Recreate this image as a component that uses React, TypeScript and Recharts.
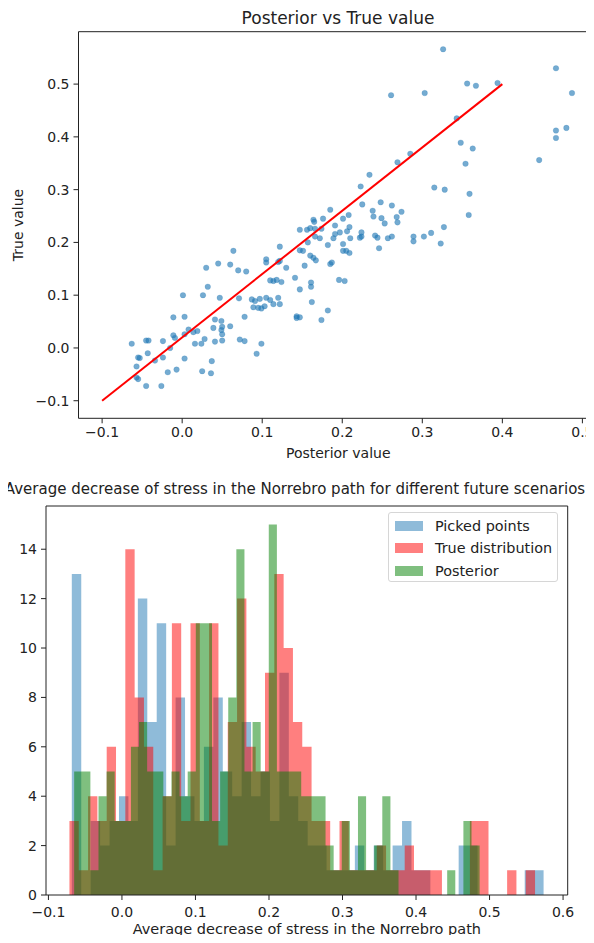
import React from "react";
import {
  ScatterChart,
  Scatter,
  ComposedChart,
  Area,
  XAxis,
  YAxis,
  ReferenceArea,
  Legend,
} from "recharts";

const FONT = "'DejaVu Sans', Verdana, sans-serif";
const INK = "#222";

// ---- top chart: posterior vs true value ----
const posteriorValues = [
  0.326, 0.467, 0.487, 0.356, 0.367, 0.394, 0.261, 0.303, 0.343, 0.467, 0.48, 0.467, 0.446, 0.348, 0.363, 0.354, 0.269, 0.285, 0.234, 0.223,
  0.225, 0.248, 0.262, 0.315, 0.328, 0.359, 0.358, 0.185, 0.208, 0.238, 0.274, 0.268, 0.249, 0.201, 0.239, 0.164, 0.176, 0.269, 0.253, 0.156,
  0.166, 0.174, 0.191, 0.209, 0.197, 0.206, 0.224, 0.224, 0.222, 0.21, 0.241, 0.244, 0.257, 0.262, 0.246, 0.289, 0.289, 0.302, 0.311, 0.327,
  0.323, 0.191, 0.182, 0.189, 0.201, 0.205, 0.209, 0.201, 0.164, 0.167, 0.153, 0.185, 0.187, 0.147, 0.161, 0.161, 0.196, 0.203, 0.162, 0.182,
  0.174, 0.147, 0.147, 0.16, 0.165, 0.122, 0.157, 0.147, 0.151, 0.166, 0.172, 0.16, 0.105, 0.105, 0.12, 0.122, 0.13, 0.11, 0.114, 0.118,
  0.124, 0.141, 0.143, 0.143, 0.087, 0.091, 0.097, 0.105, 0.11, 0.103, 0.114, 0.12, 0.122, 0.089, 0.095, 0.099, 0.078, 0.093, 0.099, 0.072,
  0.078, 0.06, 0.049, 0.05, 0.05, 0.041, 0.039, 0.028, 0.024, 0.016, 0.019, 0.014, 0.008, 0.003, 0.003, 0.001, 0.003, -0.011, -0.009, -0.015,
  -0.007, -0.018, -0.024, -0.034, -0.024, -0.026, -0.045, -0.043, -0.045, -0.042, -0.055, -0.053, -0.057, -0.063, -0.057, -0.055, 0.032, 0.03, 0.045, 0.026,
  0.047, 0.064, 0.06, 0.07, 0.08, 0.071, 0.041, 0.049, 0.05, 0.037, 0.025, 0.036, -0.011,
];
const trueValues = [
  0.566, 0.53, 0.483, 0.501, 0.497, 0.502, 0.479, 0.483, 0.435, 0.412, 0.417, 0.398, 0.356, 0.389, 0.378, 0.349, 0.352, 0.368, 0.328, 0.306,
  0.272, 0.276, 0.27, 0.304, 0.3, 0.292, 0.252, 0.262, 0.252, 0.26, 0.258, 0.248, 0.246, 0.245, 0.249, 0.243, 0.245, 0.238, 0.236, 0.224,
  0.226, 0.226, 0.232, 0.229, 0.219, 0.221, 0.219, 0.211, 0.209, 0.208, 0.213, 0.209, 0.208, 0.211, 0.189, 0.211, 0.202, 0.211, 0.218, 0.229,
  0.198, 0.216, 0.195, 0.208, 0.197, 0.184, 0.18, 0.184, 0.171, 0.166, 0.156, 0.159, 0.162, 0.111, 0.124, 0.116, 0.129, 0.127, 0.087, 0.071,
  0.053, 0.058, 0.224, 0.227, 0.239, 0.192, 0.2, 0.185, 0.184, 0.211, 0.208, 0.175, 0.168, 0.162, 0.163, 0.165, 0.152, 0.128, 0.127, 0.129,
  0.125, 0.133, 0.06, 0.057, 0.092, 0.089, 0.093, 0.095, 0.091, 0.079, 0.083, 0.095, 0.083, 0.077, 0.076, 0.075, 0.059, -0.011, 0.008, 0.016,
  0.013, 0.041, 0.034, 0.026, 0.014, 0.012, 0.038, 0.017, 0.008, 0.008, 0.032, 0.03, 0.035, 0.026, 0.059, 0.1, -0.02, 0.024, 0.019, 0.0,
  -0.041, -0.046, 0.013, -0.024, -0.018, -0.072, -0.072, -0.01, 0.014, 0.014, -0.018, -0.019, -0.035, 0.008, -0.056, -0.059, 0.116, 0.152, 0.16, 0.1,
  0.095, 0.184, 0.158, 0.147, 0.145, 0.094, 0.054, 0.051, 0.04, -0.025, -0.044, -0.048, 0.058,
];
const diagonalX = [-0.1, 0.4];
const diagonalY = [-0.1, 0.5];
const scatterTicks = [-0.1, 0, 0.1, 0.2, 0.3, 0.4, 0.5];
const scatterXDomain = [-0.1295, 0.5195];
const scatterYDomain = [-0.1333, 0.5993];

// ---- bottom chart: histograms (50 bins each) ----
const seriesNames = ["Picked points", "True distribution", "Posterior"];
const seriesColors = ["#1f77b4", "#ff0000", "#008000"];
const pickedRange = [-0.0682, 0.5735];
const trueRange = [-0.0714, 0.5619];
const posteriorRange = [-0.065, 0.4865];
const pickedCounts = [
  13, 0, 3, 2, 3, 4, 3, 12, 7, 11, 2, 8, 4, 3, 6, 8, 5, 4, 7, 4, 5, 3, 9, 4, 3,
  2, 2, 1, 1, 1, 2, 1, 2, 1, 2, 3, 1, 1, 0, 0, 0, 2, 2, 0, 0, 0, 0, 0, 1, 1,
];
const trueCounts = [
  3, 1, 4, 3, 6, 3, 14, 8, 6, 1, 4, 11, 3, 11, 3, 11, 2, 7, 12, 6, 5, 9, 13, 10, 7,
  6, 3, 3, 1, 3, 1, 1, 1, 2, 1, 1, 2, 1, 1, 1, 0, 0, 0, 3, 3, 0, 0, 1, 0, 1,
];
const posteriorCounts = [
  5, 5, 1, 4, 5, 3, 3, 6, 7, 5, 5, 4, 5, 4, 5, 11, 11, 3, 5, 8, 14, 5, 7, 5, 15,
  5, 5, 5, 4, 4, 4, 2, 1, 3, 1, 4, 1, 2, 4, 1, 0, 0, 0, 0, 0, 0, 1, 0, 3, 2,
];
const histXTicks = [-0.1, 0, 0.1, 0.2, 0.3, 0.4, 0.5, 0.6];
const histYTicks = [0, 2, 4, 6, 8, 10, 12, 14];
const histXDomain = [-0.1033, 0.6063];
const histYDomain = [0, 15.75];

const fmt = (v: number) => (v < -1e-9 ? "\u2212" : "") + Math.abs(v).toFixed(1);

const toBins = (range: number[], counts: number[]) => {
  const w = (range[1] - range[0]) / counts.length;
  const rows = counts.map((c, i) => ({ x: range[0] + i * w, count: c }));
  rows.push({ x: range[1], count: 0 });
  return rows;
};

const scatterPoints = posteriorValues.map((x, i) => ({ x, y: trueValues[i] }));
const diagonal = diagonalX.map((x, i) => ({ x, y: diagonalY[i] }));

const histSeries = [
  { name: seriesNames[0], color: seriesColors[0], data: toBins(pickedRange, pickedCounts) },
  { name: seriesNames[1], color: seriesColors[1], data: toBins(trueRange, trueCounts) },
  { name: seriesNames[2], color: seriesColors[2], data: toBins(posteriorRange, posteriorCounts) },
];

const tickStyle = { fontSize: 14, fill: INK, fontFamily: FONT };

const Dot = (p: any) => (
  <circle cx={p.cx} cy={p.cy} r={2.8} fill="#1f77b4" fillOpacity={0.62} stroke="#1f77b4" strokeOpacity={0.3} strokeWidth={0.6} />
);

const HistLegend = (props: any) => {
  const items = [...(props.payload || [])].sort(
    (a: any, b: any) => seriesNames.indexOf(a.value) - seriesNames.indexOf(b.value)
  );
  return (
    <div
      style={{
        border: "1px solid #d6d6d6",
        borderRadius: 3,
        background: "rgba(255,255,255,0.8)",
        width: 170,
        height: 70,
        boxSizing: "border-box",
        padding: "2px 0 0 6px",
        fontFamily: FONT,
        fontSize: 14.4,
        color: INK,
      }}
    >
      {items.map((entry: any) => {
        const s = histSeries.find((h) => h.name === entry.value);
        return (
          <div key={entry.value} style={{ height: 22.5, display: "flex", alignItems: "center" }}>
            <span
              style={{
                display: "inline-block",
                width: 28,
                height: 10,
                background: s ? s.color : entry.color,
                opacity: 0.5,
                marginRight: 12,
              }}
            />
            <span>{entry.value}</span>
          </div>
        );
      })}
    </div>
  );
};

const App = () => {
  return (
    <div style={{ position: "relative", width: 594, height: 943, margin: -8, overflow: "hidden", background: "#fff" }}>
      <div
        style={{
          position: "absolute",
          left: 0,
          top: 10,
          width: 676,
          textAlign: "center",
          fontFamily: FONT,
          fontSize: 17,
          lineHeight: "17px",
          color: INK,
          whiteSpace: "nowrap",
        }}
      >
        Posterior vs True value
      </div>
      <div style={{ position: "absolute", left: 0, top: 0 }}>
        <ScatterChart width={620} height={460} margin={{ top: 31.7, right: 22, bottom: 0, left: 0 }}>
          <XAxis
            type="number"
            dataKey="x"
            domain={scatterXDomain}
            allowDataOverflow
            ticks={scatterTicks}
            interval={0}
            tickFormatter={fmt}
            tick={tickStyle}
            tickLine={{ stroke: INK }}
            tickSize={5}
            tickMargin={4}
            axisLine={false}
            height={41.7}
            label={{ value: "Posterior value", position: "insideBottom", offset: 2, fill: INK, fontSize: 14, fontFamily: FONT }}
          />
          <YAxis
            type="number"
            dataKey="y"
            domain={scatterYDomain}
            allowDataOverflow
            ticks={scatterTicks}
            interval={0}
            tickFormatter={fmt}
            tick={tickStyle}
            tickLine={{ stroke: INK }}
            tickSize={5}
            tickMargin={4}
            axisLine={false}
            width={78.5}
            label={{
              value: "True value",
              angle: -90,
              position: "insideLeft",
              offset: 18,
              fill: INK,
              fontSize: 14,
              fontFamily: FONT,
              style: { textAnchor: "middle" },
            }}
          />
          <Scatter data={scatterPoints} shape={Dot} isAnimationActive={false} />
          <Scatter
            data={diagonal}
            fill="none"
            line={{ stroke: "#ff0000", strokeWidth: 2 }}
            shape={() => <g />}
            isAnimationActive={false}
          />
          <ReferenceArea
            x1={scatterXDomain[0]}
            x2={scatterXDomain[1]}
            y1={scatterYDomain[0]}
            y2={scatterYDomain[1]}
            fill="none"
            stroke={INK}
            strokeWidth={1}
            ifOverflow="visible"
          />
        </ScatterChart>
      </div>

      <div
        style={{
          position: "absolute",
          left: 0,
          top: 482,
          width: 590,
          textAlign: "center",
          fontFamily: FONT,
          fontSize: 15,
          lineHeight: "15px",
          color: INK,
          whiteSpace: "nowrap",
        }}
      >
        Average decrease of stress in the Norrebro path for different future scenarios
      </div>
      <div style={{ position: "absolute", left: 0, top: 470 }}>
        <ComposedChart width={594} height={473} margin={{ top: 36, right: 26.3, bottom: 0, left: 0 }}>
          <XAxis
            type="number"
            dataKey="x"
            domain={histXDomain}
            allowDataOverflow
            ticks={histXTicks}
            interval={0}
            tickFormatter={fmt}
            tick={tickStyle}
            tickLine={{ stroke: INK }}
            tickSize={5}
            tickMargin={7}
            axisLine={false}
            height={48}
            label={{
              value: "Average decrease of stress in the Norrebro path",
              position: "insideBottom",
              offset: 9,
              fill: INK,
              fontSize: 14.5,
              fontFamily: FONT,
            }}
          />
          <YAxis
            type="number"
            domain={histYDomain}
            allowDataOverflow
            ticks={histYTicks}
            interval={0}
            tick={tickStyle}
            tickLine={{ stroke: INK }}
            tickSize={5}
            tickMargin={4}
            axisLine={false}
            width={46}
          />
          {histSeries.map((s) => (
            <Area
              key={s.name}
              name={s.name}
              data={s.data}
              dataKey="count"
              type="stepAfter"
              fill={s.color}
              fillOpacity={0.5}
              stroke="none"
              dot={false}
              activeDot={false}
              isAnimationActive={false}
            />
          ))}
          <ReferenceArea
            x1={histXDomain[0]}
            x2={histXDomain[1]}
            y1={histYDomain[0]}
            y2={histYDomain[1]}
            fill="none"
            stroke={INK}
            strokeWidth={1}
            ifOverflow="visible"
          />
          <Legend
            layout="vertical"
            align="center"
            verticalAlign="middle"
            content={HistLegend}
            wrapperStyle={{ left: 388, top: 41.7, width: 172, height: 72 }}
          />
        </ComposedChart>
      </div>
    </div>
  );
};

export default App;
